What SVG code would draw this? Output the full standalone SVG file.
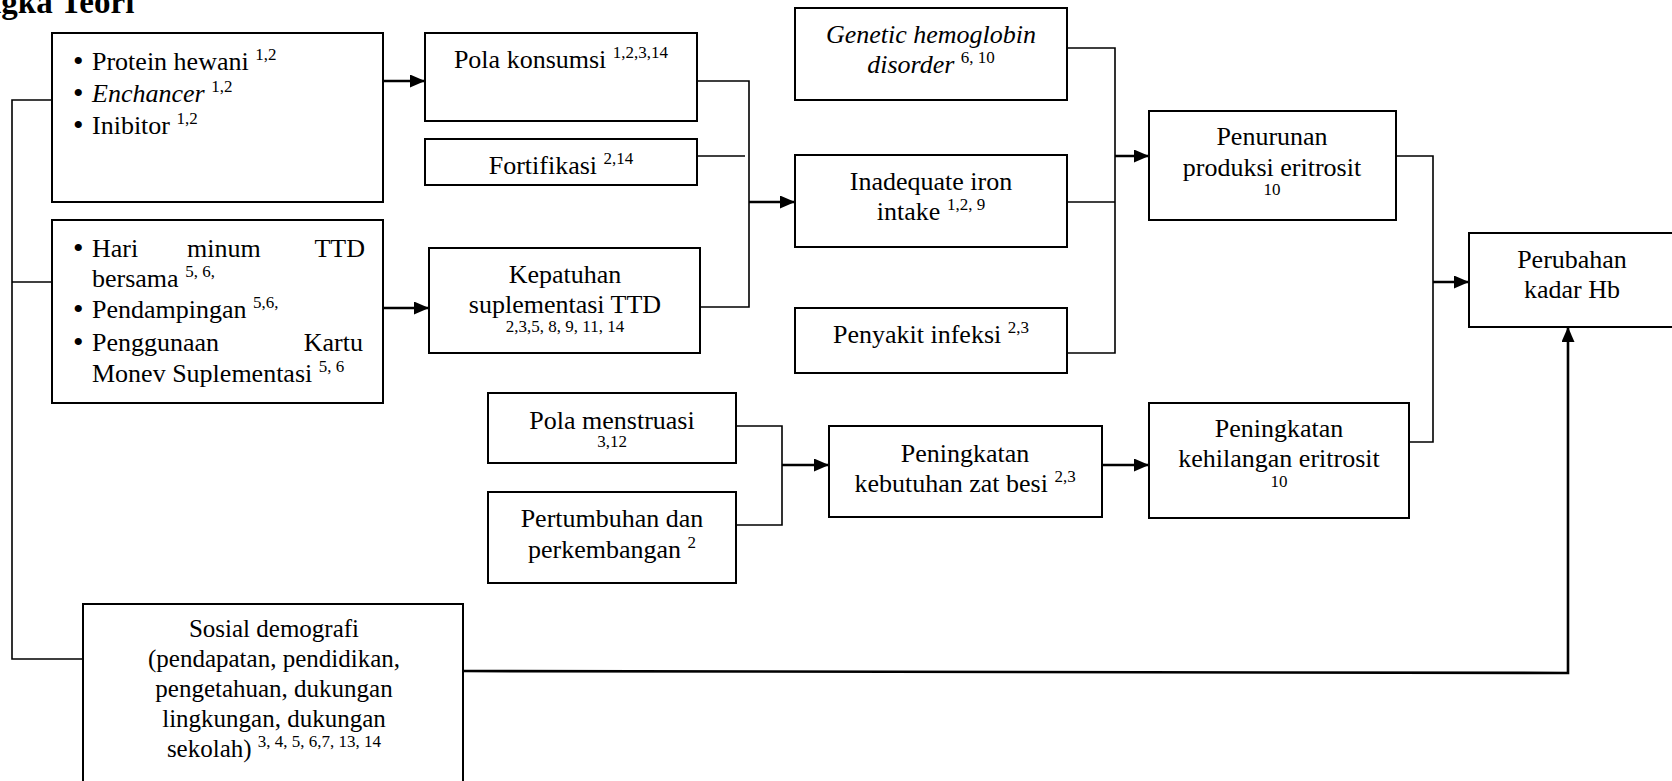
<svg xmlns="http://www.w3.org/2000/svg" width="1672" height="781" viewBox="0 0 1672 781">
<style>
text{font-family:"Liberation Serif","Times New Roman",serif;font-size:26px;fill:#000}
.c{text-anchor:middle}
.e{text-anchor:end}
.s{font-size:17px}
.i{font-style:italic}
.b{font-size:30px}
.sd{font-size:25px}
.box{fill:#fff;stroke:#000;stroke-width:2}
.ln{fill:none;stroke:#000;stroke-width:1.6}
.ar{fill:none;stroke:#000;stroke-width:2.6;marker-end:url(#ah)}
</style>
<defs>
<marker id="ah" markerUnits="userSpaceOnUse" markerWidth="15" markerHeight="13" refX="15" refY="6.5" orient="auto">
<path d="M0,0 L15,6.5 L0,13 z" fill="#000"/>
</marker>
</defs>
<rect width="1672" height="781" fill="#fff"/>
<text x="-17" y="13" style="font-weight:bold;font-size:33px">ngka Teori</text>

<g id="connectors">
<polyline class="ln" points="52,100 12,100 12,659 83,659"/>
<line class="ln" x1="12" y1="282" x2="52" y2="282"/>
<line class="ar" x1="383" y1="81" x2="425" y2="81"/>
<line class="ar" x1="383" y1="308" x2="429" y2="308"/>
<polyline class="ln" points="697,81 749,81 749,307 700,307"/>
<line class="ln" x1="697" y1="156" x2="745" y2="156"/>
<line class="ar" x1="749" y1="202" x2="795" y2="202"/>
<polyline class="ln" points="1067,48 1115,48 1115,353 1067,353"/>
<line class="ln" x1="1067" y1="202" x2="1115" y2="202"/>
<line class="ar" x1="1115" y1="156" x2="1149" y2="156"/>
<polyline class="ln" points="736,426 782,426 782,525 736,525"/>
<line class="ar" x1="782" y1="465" x2="829" y2="465"/>
<line class="ar" x1="1102" y1="465" x2="1149" y2="465"/>
<polyline class="ln" points="1396,156 1433,156 1433,442 1409,442"/>
<line class="ar" x1="1433" y1="282" x2="1469" y2="282"/>
<polyline class="ar" points="463,671 1568,673 1568,327"/>
</g>

<g id="protein">
<rect class="box" x="52" y="33" width="331" height="169"/>
<text class="b" x="73" y="71">•</text>
<text x="92" y="70">Protein hewani <tspan class="s" dy="-10">1,2</tspan></text>
<text class="b" x="73" y="103">•</text>
<text x="92" y="102"><tspan class="i">Enchancer</tspan> <tspan class="s" dy="-10">1,2</tspan></text>
<text class="b" x="73" y="135">•</text>
<text x="92" y="134">Inibitor <tspan class="s" dy="-10">1,2</tspan></text>
</g>

<g id="hari">
<rect class="box" x="52" y="220" width="331" height="183"/>
<text class="b" x="73" y="258">•</text>
<text x="92" y="257">Hari</text>
<text x="187" y="257">minum</text>
<text class="e" x="365" y="257">TTD</text>
<text x="92" y="287">bersama <tspan class="s" dy="-10">5, 6,</tspan></text>
<text class="b" x="73" y="319">•</text>
<text x="92" y="318">Pendampingan <tspan class="s" dy="-10">5,6,</tspan></text>
<text class="b" x="73" y="352">•</text>
<text x="92" y="351">Penggunaan</text>
<text class="e" x="363" y="351">Kartu</text>
<text x="92" y="382">Monev Suplementasi <tspan class="s" dy="-10">5, 6</tspan></text>
</g>

<g id="pola-konsumsi">
<rect class="box" x="425" y="33" width="272" height="88"/>
<text class="c" x="561" y="68">Pola konsumsi <tspan class="s" dy="-10">1,2,3,14</tspan></text>
</g>

<g id="fortifikasi">
<rect class="box" x="425" y="139" width="272" height="46"/>
<text class="c" x="561" y="174">Fortifikasi <tspan class="s" dy="-10">2,14</tspan></text>
</g>

<g id="kepatuhan">
<rect class="box" x="429" y="248" width="271" height="105"/>
<text class="c" x="565" y="283">Kepatuhan</text>
<text class="c" x="565" y="313">suplementasi TTD</text>
<text class="c s" x="565" y="332">2,3,5, 8, 9, 11, 14</text>
</g>

<g id="genetic">
<rect class="box" x="795" y="8" width="272" height="92"/>
<text class="c i" x="931" y="43">Genetic hemoglobin</text>
<text class="c" x="931" y="73"><tspan class="i">disorder</tspan> <tspan class="s" dy="-10">6, 10</tspan></text>
</g>

<g id="inadequate">
<rect class="box" x="795" y="155" width="272" height="92"/>
<text class="c" x="931" y="190">Inadequate iron</text>
<text class="c" x="931" y="220">intake <tspan class="s" dy="-10">1,2, 9</tspan></text>
</g>

<g id="penyakit">
<rect class="box" x="795" y="308" width="272" height="65"/>
<text class="c" x="931" y="343">Penyakit infeksi <tspan class="s" dy="-10">2,3</tspan></text>
</g>

<g id="penurunan">
<rect class="box" x="1149" y="111" width="247" height="109"/>
<text class="c" x="1272" y="145">Penurunan</text>
<text class="c" x="1272" y="176">produksi eritrosit</text>
<text class="c s" x="1272" y="195">10</text>
</g>

<g id="perubahan">
<rect class="box" x="1469" y="233" width="210" height="94"/>
<text class="c" x="1572" y="268">Perubahan</text>
<text class="c" x="1572" y="298">kadar Hb</text>
</g>

<g id="pola-menstruasi">
<rect class="box" x="488" y="393" width="248" height="70"/>
<text class="c" x="612" y="429">Pola menstruasi</text>
<text class="c s" x="612" y="447">3,12</text>
</g>

<g id="pertumbuhan">
<rect class="box" x="488" y="492" width="248" height="91"/>
<text class="c" x="612" y="527">Pertumbuhan dan</text>
<text class="c" x="612" y="558">perkembangan <tspan class="s" dy="-10">2</tspan></text>
</g>

<g id="kebutuhan">
<rect class="box" x="829" y="426" width="273" height="91"/>
<text class="c" x="965" y="462">Peningkatan</text>
<text class="c" x="965" y="492">kebutuhan zat besi <tspan class="s" dy="-10">2,3</tspan></text>
</g>

<g id="kehilangan">
<rect class="box" x="1149" y="403" width="260" height="115"/>
<text class="c" x="1279" y="437">Peningkatan</text>
<text class="c" x="1279" y="467">kehilangan eritrosit</text>
<text class="c s" x="1279" y="487">10</text>
</g>

<g id="sosial">
<rect class="box" x="83" y="604" width="380" height="190"/>
<text class="c sd" x="274" y="637">Sosial demografi</text>
<text class="c sd" x="274" y="667">(pendapatan, pendidikan,</text>
<text class="c sd" x="274" y="697">pengetahuan, dukungan</text>
<text class="c sd" x="274" y="727">lingkungan, dukungan</text>
<text class="c sd" x="274" y="757">sekolah) <tspan class="s" dy="-10">3, 4, 5, 6,7, 13, 14</tspan></text>
</g>
</svg>
